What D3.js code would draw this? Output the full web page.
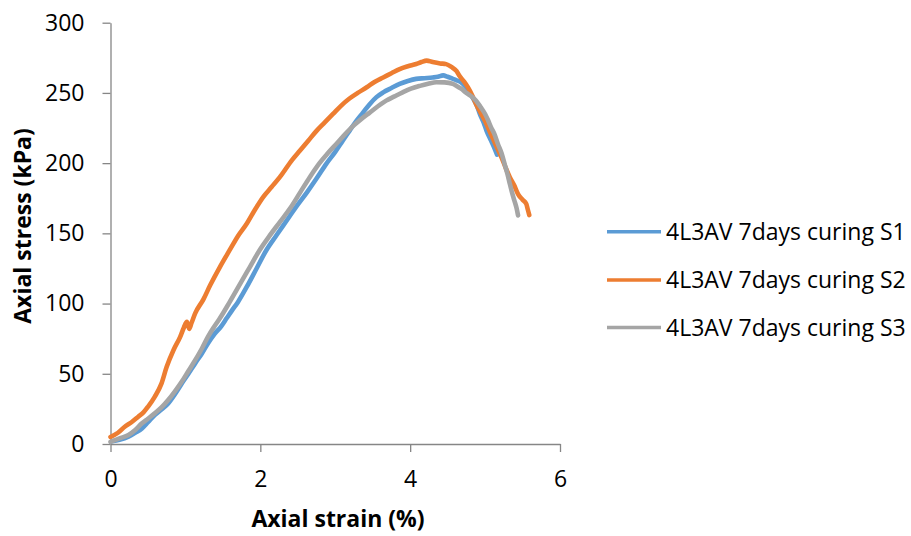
<!DOCTYPE html>
<html>
<head>
<meta charset="utf-8">
<script src="https://cdn.jsdelivr.net/npm/d3@7"></script>
<style>
  html, body { margin: 0; padding: 0; background: #fff; }
  svg { display: block; font-family: "Open Sans", Lato, sans-serif; }
</style>
</head>
<body>
<svg id="chart" width="911" height="536"></svg>
<script>
// Axial strain (%) / axial stress (kPa) readings for each specimen
const strainS1 = [0.02,0.12,0.24,0.33,0.42,0.50,0.59,0.68,0.77,0.86,0.95,1.04,1.13,1.22,1.30,1.39,1.48,1.55,1.62,1.70,1.82,1.95,2.08,2.22,2.35,2.48,2.62,2.75,2.88,3.00,3.10,3.19,3.28,3.37,3.46,3.55,3.64,3.75,3.86,3.97,4.08,4.19,4.30,4.37,4.44,4.50,4.57,4.62,4.68,4.73,4.79,4.84,4.89,4.93,4.98,5.02,5.08,5.13,5.16];
const stressS1 = [2,3,5.2,8,11.1,15.5,20.6,24.5,28.9,35.5,43,50,57.4,64.5,71.6,78.5,84,89.5,95,101,112,125,138,149,159,169,179,189,199.5,208,216,223,230,236,242,247,250.4,253.5,256.4,258.5,260,260.5,261,261.5,262.5,261.5,260,259,257.5,255,251,246,241,235,229,223,216,210,206];

const strainS2 = [0.00,0.10,0.19,0.28,0.37,0.44,0.50,0.59,0.68,0.75,0.84,0.93,0.98,1.02,1.05,1.08,1.13,1.24,1.33,1.46,1.59,1.70,1.82,1.93,2.04,2.15,2.26,2.42,2.53,2.64,2.75,2.86,2.97,3.08,3.19,3.30,3.42,3.53,3.64,3.75,3.86,3.97,4.08,4.15,4.22,4.30,4.40,4.48,4.55,4.62,4.66,4.72,4.77,4.83,4.88,4.94,5.00,5.05,5.10,5.16,5.22,5.28,5.33,5.39,5.44,5.50,5.55,5.57,5.59];
const stressS2 = [5,8,12.3,15.5,19.4,22.5,26.5,33.6,43,55,66.8,76.3,83,87,82,86,93,103,113,126,138,148,157,167,176,183,190,202,209,216,223,229,235,241,246,250,254,258,261,264,267,269,270.6,272,273,272,271,270.5,268.5,265.5,262,258,254,248,242,236,230,224,218,211,204,196,190,184,178,174,171,167,163];

const strainS3 = [0.00,0.12,0.24,0.33,0.42,0.50,0.59,0.68,0.77,0.86,0.95,1.04,1.13,1.22,1.30,1.39,1.46,1.59,1.73,1.86,1.99,2.12,2.26,2.40,2.53,2.66,2.79,2.90,3.02,3.13,3.24,3.35,3.46,3.57,3.68,3.79,3.90,4.01,4.13,4.24,4.35,4.46,4.57,4.62,4.68,4.75,4.82,4.88,4.94,5.00,5.04,5.08,5.13,5.17,5.22,5.26,5.30,5.33,5.36,5.39,5.42,5.44];
const stressS3 = [1.5,4,6.4,10,14.7,18,21.8,26,31.3,37.5,44.3,52,59.7,68,76.3,84,89.5,101,114,126,138,148,158,168,179,190,200,207,214,220.5,226.5,231.5,236,240.5,244.5,247.5,250.4,253,255,256.5,257.6,257.5,256.4,255,253,250,247.5,244.5,240,235,230.5,225.5,220,213.8,207,199.5,192,185.3,179,173.5,168,162.8];

const seriesNames = ["4L3AV 7days curing S1", "4L3AV 7days curing S2", "4L3AV 7days curing S3"];
const seriesColors = ["#5B9BD5", "#ED7D31", "#A5A5A5"];
const xTicks = [0, 2, 4, 6];
const yTicks = [0, 50, 100, 150, 200, 250, 300];

const series = [
  { name: seriesNames[0], color: seriesColors[0], xs: strainS1, ys: stressS1 },
  { name: seriesNames[1], color: seriesColors[1], xs: strainS2, ys: stressS2 },
  { name: seriesNames[2], color: seriesColors[2], xs: strainS3, ys: stressS3 }
];

const svg = d3.select("#chart");
const axisColor = "#868686";
const fontSize = 23;

const x = d3.scaleLinear().domain([0, 6]).range([110.5, 560]);
const y = d3.scaleLinear().domain([0, 300]).range([444, 22.7]);

// Axes
const xAxis = svg.append("g")
  .attr("transform", `translate(0,${y(0)})`)
  .call(d3.axisBottom(x).tickValues(xTicks).tickFormat(d3.format("d"))
    .tickSize(8).tickPadding(18.5).tickSizeOuter(0));
const yAxis = svg.append("g")
  .attr("transform", `translate(${x(0)},0)`)
  .call(d3.axisLeft(y).tickValues(yTicks).tickFormat(d3.format("d"))
    .tickSize(8).tickPadding(18).tickSizeOuter(0));

[xAxis, yAxis].forEach(g => {
  g.select(".domain").attr("stroke", axisColor).attr("stroke-width", 1.3);
  g.selectAll(".tick line").attr("stroke", axisColor).attr("stroke-width", 1.3);
  g.selectAll(".tick text")
    .attr("fill", "#000")
    .style("font-family", "\"Open Sans\", sans-serif")
    .style("font-size", fontSize + "px");
});

// Curves
const line = d3.line()
  .x(d => x(d[0]))
  .y(d => y(d[1]))
  .curve(d3.curveMonotoneX);

series.forEach(s => {
  const pts = s.xs.map((v, i) => [v, s.ys[i]]);
  svg.append("path")
    .datum(pts)
    .attr("fill", "none")
    .attr("stroke", s.color)
    .attr("stroke-width", 4.6)
    .attr("stroke-linejoin", "round")
    .attr("stroke-linecap", "round")
    .attr("d", line);
});

// Axis titles
svg.append("text")
  .attr("x", 338)
  .attr("y", 527)
  .attr("text-anchor", "middle")
  .style("font-weight", "bold")
  .style("font-size", fontSize + "px")
  .text("Axial strain (%)");

svg.append("text")
  .attr("transform", "translate(31,226) rotate(-90)")
  .attr("text-anchor", "middle")
  .style("font-weight", "bold")
  .style("font-size", fontSize + "px")
  .text("Axial stress (kPa)");

// Legend
const legend = svg.append("g");
const legendY = [231.7, 280, 327.5];
series.forEach((s, i) => {
  legend.append("line")
    .attr("x1", 607).attr("x2", 661)
    .attr("y1", legendY[i]).attr("y2", legendY[i])
    .attr("stroke", s.color)
    .attr("stroke-width", 3.6);
  legend.append("text")
    .attr("x", 666)
    .attr("y", legendY[i])
    .attr("dy", "0.35em")
    .style("font-size", fontSize + "px")
    .text(s.name);
});
</script>
</body>
</html>
